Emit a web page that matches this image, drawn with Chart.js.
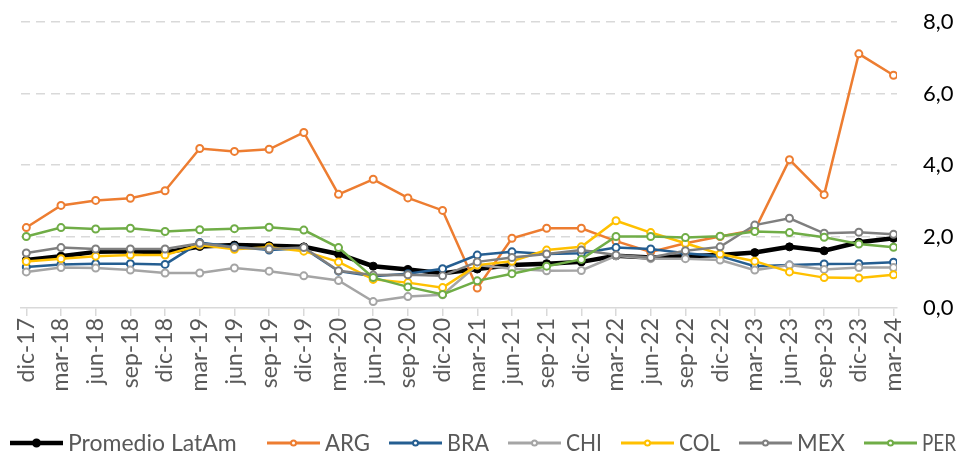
<!DOCTYPE html>
<html>
<head>
<meta charset="utf-8">
<script src="https://cdn.jsdelivr.net/npm/chart.js@4.4.1/dist/chart.umd.min.js"></script>
<style>
  html, body { margin: 0; padding: 0; background: #fff; }
  #zona { width: 958px; height: 455px; }
</style>
</head>
<body>
<div id="zona"><canvas id="graph"></canvas></div>
<script>
// trimestres
var fechas = ['dic-17','mar-18','jun-18','sep-18','dic-18','mar-19','jun-19','sep-19','dic-19','mar-20','jun-20','sep-20','dic-20','mar-21','jun-21','sep-21','dic-21','mar-22','jun-22','sep-22','dic-22','mar-23','jun-23','sep-23','dic-23','mar-24'];

var promedio = [1.34,1.45,1.57,1.59,1.55,1.72,1.76,1.74,1.71,1.51,1.17,1.08,0.97,1.09,1.20,1.24,1.29,1.46,1.41,1.45,1.48,1.55,1.71,1.60,1.84,1.95];
var arg = [2.25,2.87,3.01,3.07,3.28,4.46,4.38,4.44,4.91,3.18,3.60,3.08,2.73,0.56,1.95,2.23,2.23,1.87,1.57,1.81,2.00,2.18,4.15,3.17,7.11,6.51];
var bra = [1.15,1.22,1.24,1.24,1.22,1.83,1.71,1.62,1.67,1.03,0.89,0.96,1.10,1.48,1.57,1.51,1.53,1.69,1.65,1.53,1.45,1.17,1.20,1.23,1.24,1.28];
var chi = [1.01,1.13,1.12,1.06,0.98,0.98,1.12,1.03,0.90,0.77,0.18,0.32,0.37,1.20,1.10,1.04,1.05,1.46,1.38,1.38,1.34,1.06,1.20,1.08,1.13,1.13];
var col = [1.30,1.38,1.45,1.48,1.48,1.76,1.64,1.70,1.59,1.29,0.80,0.71,0.57,1.20,1.31,1.62,1.71,2.44,2.11,1.81,1.51,1.31,1.01,0.85,0.84,0.93];
var mex = [1.54,1.69,1.65,1.65,1.65,1.81,1.69,1.65,1.69,1.04,0.92,0.93,0.90,1.29,1.41,1.51,1.62,1.48,1.41,1.60,1.71,2.32,2.51,2.09,2.12,2.06];
var per = [2.00,2.25,2.21,2.23,2.14,2.19,2.22,2.26,2.18,1.69,0.85,0.59,0.38,0.76,0.96,1.17,1.36,2.00,2.00,1.97,2.01,2.14,2.11,1.98,1.79,1.70];

var marcasY = [0, 2, 4, 6, 8];

var series = [
  { nombre: 'Promedio LatAm', valores: promedio, color: '#000000' },
  { nombre: 'ARG', valores: arg, color: '#ED7D31' },
  { nombre: 'BRA', valores: bra, color: '#255E91' },
  { nombre: 'CHI', valores: chi, color: '#A5A5A5' },
  { nombre: 'COL', valores: col, color: '#FFC000' },
  { nombre: 'MEX', valores: mex, color: '#7F7F7F' },
  { nombre: 'PER', valores: per, color: '#70AD47' }
];

var fuente = 'Lato, "Open Sans", sans-serif';

var datasets = series.map(function(s, i) {
  var esProm = (i == 0);
  return {
    label: s.nombre,
    data: s.valores.map(function(v, k) { return { x: k, y: v }; }),
    borderColor: s.color,
    backgroundColor: s.color,
    borderWidth: esProm ? 4.5 : 2.5,
    pointRadius: esProm ? 4 : 3.5,
    pointBorderWidth: esProm ? 1 : 2,
    pointBackgroundColor: esProm ? s.color : '#ffffff',
    pointBorderColor: s.color,
    tension: 0,
    order: series.length - i // PER queda arriba, como en excel
  };
});

// leyenda dibujada a mano: linea + marcador + texto
var leyendaX = [10, 267, 389, 508, 621, 739, 864];
var leyenda = {
  id: 'leyenda',
  afterDraw: function(chart) {
    var ctx = chart.ctx;
    var y = 443;
    ctx.save();
    series.forEach(function(s, i) {
      var x0 = leyendaX[i];
      var esProm = (i == 0);
      ctx.strokeStyle = s.color;
      ctx.lineWidth = esProm ? 4.5 : 3;
      ctx.beginPath();
      ctx.moveTo(x0, y);
      ctx.lineTo(x0 + 53, y);
      ctx.stroke();
      ctx.beginPath();
      ctx.arc(x0 + 26.5, y, esProm ? 3.5 : 2.5, 0, Math.PI * 2);
      ctx.fillStyle = esProm ? s.color : '#ffffff';
      ctx.fill();
      ctx.lineWidth = 2;
      ctx.stroke();
      ctx.fillStyle = '#595959';
      ctx.font = '23px ' + fuente;
      ctx.textBaseline = 'middle';
      ctx.textAlign = 'left';
      // ancho maximo: hasta la siguiente entrada (o el borde)
      var fin = (i < leyendaX.length - 1) ? leyendaX[i + 1] - 19 : 956;
      ctx.fillText(s.nombre, x0 + 58, y + 1, fin - (x0 + 58));
    });
    ctx.restore();
  }
};

const config = {
  type: 'line',
  data: { datasets: datasets },
  options: {
    responsive: true,
    maintainAspectRatio: false,
    animation: false,
    layout: { padding: { left: 21, right: 0, top: 22, bottom: 0 } },
    plugins: {
      legend: { display: false },
      tooltip: { enabled: false }
    },
    scales: {
      x: {
        type: 'linear',
        min: -0.153,
        max: 25.1,
        afterBuildTicks: function(scale) {
          scale.ticks = fechas.map(function(f, k) { return { value: k }; });
        },
        afterFit: function(scale) { scale.height = 147; },
        ticks: {
          autoSkip: false,
          minRotation: 90,
          maxRotation: 90,
          padding: 2,
          color: '#595959',
          font: { family: fuente, size: 23 },
          callback: function(v) { return fechas[v]; }
        },
        grid: {
          drawOnChartArea: false,
          drawTicks: true,
          tickLength: 8,
          color: '#D9D9D9',
          lineWidth: 1.5
        },
        border: { display: true, color: '#D9D9D9', width: 1.5 }
      },
      y: {
        position: 'right',
        min: 0,
        max: 8,
        afterBuildTicks: function(scale) {
          scale.ticks = marcasY.map(function(v) { return { value: v }; });
        },
        afterFit: function(scale) {
          scale.width = 61;
          scale.paddingTop = 0;
          scale.paddingBottom = 0;
        },
        ticks: {
          padding: 26,
          color: '#000000',
          font: { family: fuente, size: 22 },
          callback: function(v) { return v.toFixed(1).replace('.', ','); }
        },
        grid: {
          drawTicks: false,
          color: function(c) { return c.tick && c.tick.value == 0 ? 'rgba(0,0,0,0)' : '#D9D9D9'; },
          lineWidth: 1.5
        },
        border: { display: false, dash: [9, 6] }
      }
    }
  },
  plugins: [leyenda]
};

const graph = new Chart(document.getElementById('graph'), config);
</script>
</body>
</html>
